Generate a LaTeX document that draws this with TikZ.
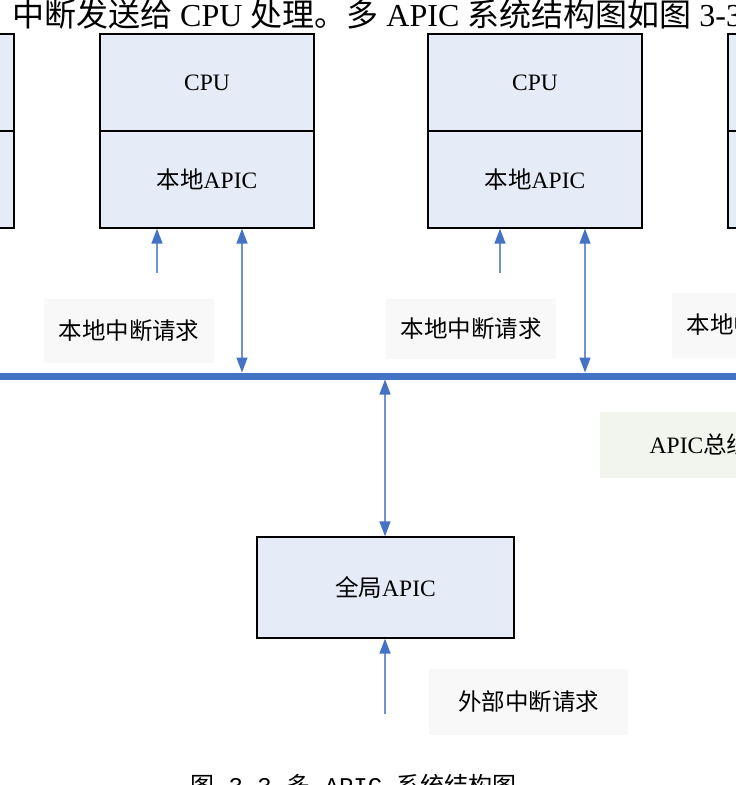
\documentclass[tikz,border=0pt]{standalone}
\usepackage{fontspec}
\setmainfont{Liberation Serif}
\newfontfamily\cjk{Noto Sans CJK SC}
\newfontfamily\capmono{Liberation Mono}
\usetikzlibrary{arrows.meta}
\definecolor{boxfill}{HTML}{E6ECF7}
\definecolor{busblue}{HTML}{4472C4}
\definecolor{arrowblue}{HTML}{6F93D0}
\definecolor{lblgray}{HTML}{F8F8F8}
\definecolor{lblgreen}{HTML}{F2F4EE}
\begin{document}
\begin{tikzpicture}[x=1pt,y=-1pt,
  unit/.style={draw=black, line width=1.3pt, fill=boxfill, minimum width=214pt, minimum height=97pt, inner sep=0pt, font=\fontsize{23.5}{28}\selectfont},
  lbl/.style={fill=lblgray, inner sep=0pt, font=\fontsize{23.5}{28}\selectfont},
  arr/.style={draw=arrowblue, line width=1.4pt, -{Triangle[length=15pt,width=11pt,color=busblue]}},
  darr/.style={draw=arrowblue, line width=1.4pt, {Triangle[length=15pt,width=11pt,color=busblue]}-{Triangle[length=15pt,width=11pt,color=busblue]}},
  bus/.style={draw=busblue, line width=7pt}
]
\useasboundingbox (0,0) rectangle (736,785);
\clip (0,0) rectangle (736,785);

% intro text line (cut at top)
\node[anchor=base west, inner sep=0pt, font=\fontsize{32}{38}\selectfont] (intro) at (12,26)
  {{\cjk 中断发送给} CPU {\cjk 处理。多} APIC {\cjk 系统结构图如图} 3-3};

% CPU / local APIC units
\node[unit] (cpu1) at (-93,82.5) {CPU};
\node[unit] (apic1) at (-93,179.5) {{\cjk 本地}APIC};
\node[unit] (cpu2) at (207,82.5) {CPU};
\node[unit] (apic2) at (207,179.5) {{\cjk 本地}APIC};
\node[unit] (cpu3) at (535,82.5) {CPU};
\node[unit] (apic3) at (535,179.5) {{\cjk 本地}APIC};
\node[unit] (cpu4) at (835,82.5) {CPU};
\node[unit] (apic4) at (835,179.5) {{\cjk 本地}APIC};

% local interrupt labels
\node[lbl, minimum width=170pt, minimum height=64pt] (req2) at (129,331) {\cjk 本地中断请求};
\node[lbl, minimum width=170pt, minimum height=60pt] (req3) at (471,329) {\cjk 本地中断请求};
\node[lbl, minimum width=170pt, minimum height=65pt] (req4) at (757,325) {\cjk 本地中断请求};

% bus
\coordinate (busL) at (0,376);
\coordinate (busR) at (736,376);
\draw[bus] (busL) -- (busR);
\node[fill=lblgreen, inner sep=0pt, minimum width=200pt, minimum height=66pt, font=\fontsize{23.5}{28}\selectfont] (buslbl) at (700,445) {APIC{\cjk 总线}};

% local interrupt arrows
\coordinate (in2) at (157,273);
\draw[arr] (in2) -- (in2 |- apic2.south);
\coordinate (in3) at (500,273);
\draw[arr] (in3) -- (in3 |- apic3.south);

% bus <-> local APIC
\coordinate (b2) at (242,372.5);
\draw[darr] (b2) -- (b2 |- apic2.south);
\coordinate (b3) at (585,372.5);
\draw[darr] (b3) -- (b3 |- apic3.south);

% global APIC
\node[draw=black, line width=1.3pt, fill=boxfill, minimum width=257pt, minimum height=101pt, inner sep=0pt, font=\fontsize{23.5}{28}\selectfont] (global) at (385.5,587.5) {{\cjk 全局}APIC};
\coordinate (bg) at (385,379.5);
\draw[darr] (bg) -- (bg |- global.north);

% external interrupt
\coordinate (ext) at (385,714);
\draw[arr] (ext) -- (ext |- global.south);
\node[lbl, minimum width=199pt, minimum height=66pt] (extlbl) at (528.5,702) {\cjk 外部中断请求};

% caption (cut at bottom)
\node[anchor=base west, inner sep=0pt, font=\capmono\fontsize{24}{28}\selectfont] (caption) at (190,794)
  {{\cjk 图} 3-3 {\cjk 多} APIC {\cjk 系统结构图}};
\end{tikzpicture}
\end{document}
